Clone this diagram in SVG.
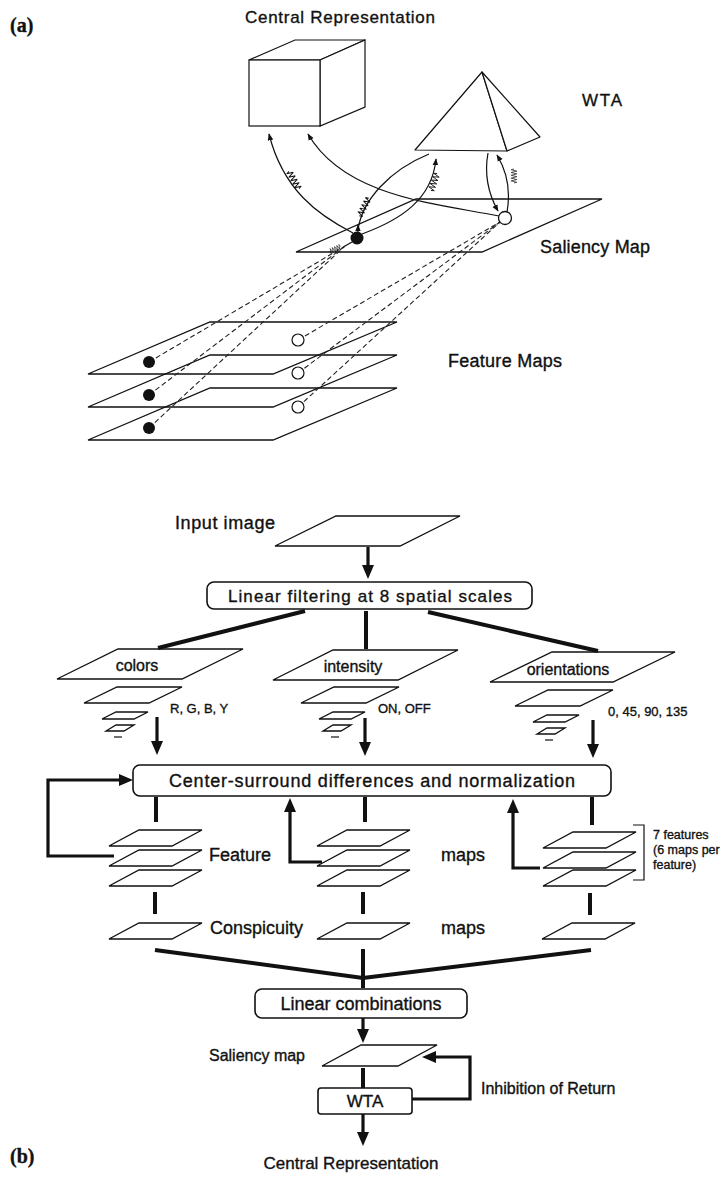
<svg xmlns="http://www.w3.org/2000/svg" xmlns:xlink="http://www.w3.org/1999/xlink" width="722" height="1177" viewBox="0 0 722 1177">
<style>
  .t { font-family: "Liberation Sans", Arial, sans-serif; fill: #111; stroke: #111; stroke-width: 0.35; }
  .serif { font-family: "Liberation Serif", "Times New Roman", serif; font-weight: bold; }
  .thin { fill: none; stroke: #111; stroke-width: 1.2; }
  .plane { fill: none; stroke: #111; stroke-width: 1.3; stroke-linejoin: miter; }
  .dash { fill: none; stroke: #222; stroke-width: 1.1; stroke-dasharray: 5 3; }
  .thick { fill: none; stroke: #111; stroke-width: 4; }
  .arr { fill: none; stroke: #111; stroke-width: 3.2; }
  .box { fill: #fff; stroke: #111; stroke-width: 1.6; }
  .coil { fill: none; stroke: #111; stroke-width: 1; }
</style>
<defs>
  <marker id="ah" viewBox="0 0 10 10" refX="9" refY="5" markerWidth="7" markerHeight="7" markerUnits="userSpaceOnUse" orient="auto">
    <path d="M0,1 L10,5 L0,9 z" fill="#111"/>
  </marker>
  <marker id="tb" viewBox="0 0 14 12" refX="1" refY="6" markerWidth="14" markerHeight="12" markerUnits="userSpaceOnUse" orient="auto">
    <path d="M0,0 L14,6 L0,12 z" fill="#111"/>
  </marker>
  <path id="coil" d="M-10,0 l1,4 l2,-8 l2,8 l2,-8 l2,8 l2,-8 l2,8 l2,-8 l2,8 l2,-8 l1,4"/>
</defs>

<!-- ===================== (a) ===================== -->
<text class="t serif" x="10" y="32" font-size="20">(a)</text>

<g id="central-rep-a">
  <polygon points="249,60 295,40 365,40 320,60" fill="#fff" stroke="#111" stroke-width="1.2"/>
  <polygon points="320,60 365,40 365,107 320,126" fill="#fff" stroke="#111" stroke-width="1.2"/>
  <rect x="249" y="60" width="71" height="66" fill="#fff" stroke="#111" stroke-width="1.2"/>
  <text class="t" x="245" y="23" font-size="17" textLength="190">Central Representation</text>
</g>

<g id="wta-a">
  <polygon points="482,72 415,150 507,151" fill="#fff" stroke="#111" stroke-width="1.2" stroke-linejoin="round"/>
  <polygon points="482,72 507,151 540,137" fill="#fff" stroke="#111" stroke-width="1.2" stroke-linejoin="round"/>
  <text class="t" x="582" y="106" font-size="17" textLength="40">WTA</text>
</g>

<g id="saliency-a">
  <polygon class="plane" points="296,252 482,252 602,199 416,199"/>
  <text class="t" x="540" y="253" font-size="18" textLength="110">Saliency Map</text>
</g>

<g id="feature-maps-a">
  <polygon class="plane" points="88,374 273,374 397,322 210,322"/>
  <polygon class="plane" points="88,407 273,407 397,355 210,355"/>
  <polygon class="plane" points="88,440 273,440 397,388 210,388"/>
  <text class="t" x="448" y="367" font-size="18" textLength="114">Feature Maps</text>
</g>

<g id="connectors-a">
  <path class="dash" d="M149,362 L345,246"/>
  <path class="dash" d="M149,395 L345,246"/>
  <path class="dash" d="M149,428 L345,246"/>
  <path class="dash" d="M298,340 L500,222"/>
  <path class="dash" d="M298,373 L500,222"/>
  <path class="dash" d="M298,407 L500,222"/>
  <path class="thin" d="M345,246 L352,242"/>
  <use href="#coil" class="coil" transform="translate(335,249) rotate(-25) scale(0.6)"/>
  <path class="thin" marker-end="url(#ah)" d="M353,233 C318,215 283,190 269,134"/>
  <use href="#coil" class="coil" transform="translate(294,180) rotate(-120) scale(1,0.8)"/>
  <path class="thin" marker-end="url(#ah)" d="M499,216 C440,204 345,198 308,134"/>
  <path class="thin" d="M358,230 C362,200 390,170 429,154"/>
  <path class="thin" marker-end="url(#ah)" d="M358,233 L358,225"/>
  <use href="#coil" class="coil" transform="translate(364,207) rotate(-62) scale(1,0.8)"/>
  <path class="thin" marker-end="url(#ah)" d="M362,234 C400,220 432,200 436,159"/>
  <use href="#coil" class="coil" transform="translate(434,182) rotate(-70) scale(0.9,0.8)"/>
  <path class="thin" marker-end="url(#ah)" d="M488,153 C484,175 489,195 498,211"/>
  <path class="thin" marker-end="url(#ah)" d="M507,212 C511,190 506,170 497,155"/>
  <use href="#coil" class="coil" transform="translate(514,176) rotate(-90) scale(0.7)"/>
</g>

<g id="dots-a">
  <circle cx="357" cy="238" r="6.5" fill="#111"/>
  <circle cx="505" cy="218" r="6.5" fill="#fff" stroke="#111" stroke-width="1.3"/>
  <circle cx="149" cy="362" r="6" fill="#111"/>
  <circle cx="149" cy="395" r="6" fill="#111"/>
  <circle cx="149" cy="428" r="6" fill="#111"/>
  <circle cx="298" cy="340" r="6" fill="#fff" stroke="#111" stroke-width="1.2"/>
  <circle cx="298" cy="373" r="6" fill="#fff" stroke="#111" stroke-width="1.2"/>
  <circle cx="298" cy="407" r="6" fill="#fff" stroke="#111" stroke-width="1.2"/>
</g>

<!-- ===================== (b) ===================== -->
<g id="connectors-b">
  <path class="arr" marker-end="url(#tb)" d="M368,547 L368,566"/>
  <path class="thick" d="M305,611 L158,648"/>
  <path class="thick" d="M366,611 L366,649"/>
  <path class="thick" d="M428,612 L598,651"/>
  <path class="arr" marker-end="url(#tb)" d="M157,717 L157,742"/>
  <path class="arr" marker-end="url(#tb)" d="M365,718 L365,743"/>
  <path class="arr" marker-end="url(#tb)" d="M593,720 L593,745"/>
  <path class="thick" d="M156,797 L156,822"/>
  <path class="thick" d="M365,797 L365,822"/>
  <path class="thick" d="M592,797 L592,825"/>
  <path class="arr" marker-end="url(#tb)" d="M114,856 L48,856 L48,780 L120,780"/>
  <path class="arr" marker-end="url(#tb)" d="M322,862 L290,862 L290,811"/>
  <path class="arr" marker-end="url(#tb)" d="M540,868 L513,868 L513,812"/>
  <path class="thick" d="M155,892 L155,914"/>
  <path class="thick" d="M363,892 L363,914"/>
  <path class="thick" d="M590,893 L590,915"/>
  <path class="thin" d="M633,825 L644,825 L644,880 L633,880" stroke-width="1.4"/>
  <path class="thick" d="M155,950 L363,978 L591,950"/>
  <path class="thick" d="M363,949 L363,988"/>
  <path class="arr" marker-end="url(#tb)" d="M363,1018 L363,1030"/>
  <path class="thick" d="M363,1068 L363,1088"/>
  <path class="arr" d="M412,1099 L470,1099 L470,1057 L436,1057"/>
  <path class="arr" marker-end="url(#tb)" d="M436,1057 L435,1057"/>
  <path class="arr" marker-end="url(#tb)" d="M363,1114 L363,1133"/>
</g>

<g id="input-image">
  <polygon class="plane" points="275,546 400,546 460,516 336,516"/>
  <text class="t" x="175" y="529" font-size="18" textLength="100">Input image</text>
</g>

<g id="linear-filtering">
  <rect class="box" x="207" y="582" width="325" height="27" rx="7"/>
  <text class="t" x="370" y="602" font-size="17" text-anchor="middle" textLength="284">Linear filtering at 8 spatial scales</text>
</g>

<g id="colors">
  <polygon class="plane" points="57,679 182,679 243,649 118,649"/>
  <text class="t" x="137" y="671" font-size="16" text-anchor="middle">colors</text>
  <polygon class="plane" points="84,703 149,703 182,687 117,687"/>
  <polygon class="plane" points="102,719 134,719 148,712 116,712"/>
  <polygon class="plane" points="106,731 124,731 134,725 116,725"/>
  <path class="thin" stroke-width="2" d="M114,737 L122,737"/>
  <text class="t" x="170" y="713" font-size="13">R, G, B, Y</text>
</g>

<g id="intensity">
  <polygon class="plane" points="273,680 398,680 458,650 333,650"/>
  <text class="t" x="353" y="672" font-size="16" text-anchor="middle">intensity</text>
  <polygon class="plane" points="301,703 366,703 399,687 334,687"/>
  <polygon class="plane" points="319,719 351,719 365,712 333,712"/>
  <polygon class="plane" points="323,731 341,731 351,725 333,725"/>
  <path class="thin" stroke-width="2" d="M331,737 L339,737"/>
  <text class="t" x="378" y="713" font-size="13">ON, OFF</text>
</g>

<g id="orientations">
  <polygon class="plane" points="490,682 613,682 675,652 552,652"/>
  <text class="t" x="568" y="675" font-size="16" text-anchor="middle">orientations</text>
  <polygon class="plane" points="515,706 580,706 613,690 548,690"/>
  <polygon class="plane" points="533,722 565,722 579,715 547,715"/>
  <polygon class="plane" points="537,734 555,734 565,728 547,728"/>
  <path class="thin" stroke-width="2" d="M545,740 L553,740"/>
  <text class="t" x="608" y="716" font-size="13">0, 45, 90, 135</text>
</g>

<g id="center-surround">
  <rect class="box" x="133" y="765" width="478" height="31" rx="7"/>
  <text class="t" x="372" y="787" font-size="18" text-anchor="middle" textLength="406">Center-surround differences and normalization</text>
</g>

<g id="feature-stack-colors">
  <polygon class="plane" points="109,846 172,846 202,830 139,830"/>
  <polygon class="plane" points="109,866 172,866 202,850 139,850"/>
  <polygon class="plane" points="109,886 172,886 202,870 139,870"/>
</g>
<g id="feature-stack-intensity">
  <polygon class="plane" points="317,846 380,846 410,830 347,830"/>
  <polygon class="plane" points="317,866 380,866 410,850 347,850"/>
  <polygon class="plane" points="317,886 380,886 410,870 347,870"/>
</g>
<g id="feature-stack-orientations">
  <polygon class="plane" points="543,848 606,848 636,832 573,832"/>
  <polygon class="plane" points="543,868 606,868 636,852 573,852"/>
  <polygon class="plane" points="543,886 606,886 636,870 573,870"/>
</g>
<g id="feature-labels">
  <text class="t" x="209" y="861" font-size="18">Feature</text>
  <text class="t" x="441" y="861" font-size="18">maps</text>
  <text class="t" x="653" y="839" font-size="12.5">7 features</text>
  <text class="t" x="653" y="854" font-size="12.5">(6 maps per</text>
  <text class="t" x="653" y="869" font-size="12.5">feature)</text>
</g>

<g id="conspicuity">
  <polygon class="plane" points="109,939 172,939 202,923 139,923"/>
  <polygon class="plane" points="317,939 380,939 410,923 347,923"/>
  <polygon class="plane" points="542,939 605,939 635,923 572,923"/>
  <text class="t" x="210" y="934" font-size="18">Conspicuity</text>
  <text class="t" x="441" y="934" font-size="18">maps</text>
</g>

<g id="linear-combinations">
  <rect class="box" x="255" y="989" width="212" height="29" rx="7"/>
  <text class="t" x="361" y="1010" font-size="18" text-anchor="middle">Linear combinations</text>
</g>

<g id="saliency-b">
  <polygon class="plane" points="322,1066 398,1066 437,1045 361,1045"/>
  <text class="t" x="305" y="1061" font-size="16" text-anchor="end">Saliency map</text>
</g>

<g id="wta-b">
  <rect class="box" x="318" y="1088" width="94" height="26" rx="3"/>
  <text class="t" x="365" y="1107" font-size="17" text-anchor="middle">WTA</text>
  <text class="t" x="481" y="1094" font-size="16">Inhibition of Return</text>
</g>

<g id="central-rep-b">
  <text class="t" x="351" y="1169" font-size="17" text-anchor="middle">Central Representation</text>
  <text class="t serif" x="10" y="1163" font-size="20">(b)</text>
</g>
</svg>
